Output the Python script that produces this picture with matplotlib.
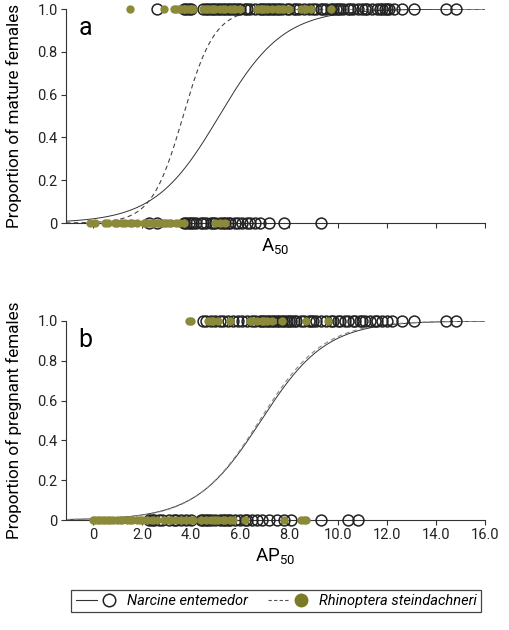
import numpy as np
import matplotlib
matplotlib.use('Agg')
import matplotlib.pyplot as plt
from matplotlib.lines import Line2D
from matplotlib.legend_handler import HandlerTuple

plt.rcParams['font.family'] = ['Roboto', 'DejaVu Sans']

green = '#8a8a3a'

# Panel a: maturity (1 = mature, 0 = immature)
narc_mat_1 = [2.6, 3.7, 3.8, 3.9, 4.0, 4.5, 4.6, 4.7, 4.8, 4.9, 5.0, 5.1, 5.2, 5.3, 5.4,
              5.5, 5.6, 5.7, 5.8, 5.9, 6.0, 6.2, 6.3, 6.4, 6.6, 6.8, 6.9, 7.0, 7.1, 7.2,
              7.3, 7.4, 7.5, 7.6, 7.7, 7.9, 8.0, 8.2, 8.3, 8.4, 8.6, 8.8, 9.0, 9.1, 9.3,
              9.4, 9.5, 9.7, 9.8, 9.9, 10.0, 10.1, 10.2, 10.4, 10.5, 10.6, 10.8, 11.0,
              11.1, 11.2, 11.4, 11.6, 11.7, 11.8, 11.9, 12.0, 12.1, 12.3, 12.6, 13.1,
              14.4, 14.8]
rhin_mat_1 = [1.5, 2.9, 3.3, 3.4, 3.5, 3.6, 3.7, 3.8, 3.9, 4.0, 4.1, 4.5, 4.6, 4.7, 4.8,
              4.9, 5.0, 5.2, 5.3, 5.4, 5.6, 5.7, 5.8, 6.0, 6.7, 6.8, 6.9, 7.0, 7.1, 7.3,
              7.5, 7.6, 7.7, 7.8, 8.0, 8.5, 8.6, 8.7, 8.9, 9.7]
narc_mat_0 = [2.3, 2.6, 3.7, 3.8, 3.9, 4.0, 4.1, 4.2, 4.4, 4.5, 4.6, 4.8, 4.9, 5.0, 5.2,
              5.3, 5.4, 5.5, 5.6, 5.8, 5.9, 6.1, 6.3, 6.4, 6.6, 6.8, 7.2, 7.8, 9.3]
rhin_mat_0 = [-0.1, 0.1, 0.5, 0.6, 0.9, 1.0, 1.2, 1.3, 1.5, 1.6, 1.8, 2.1, 2.2, 2.3, 2.4,
              2.5, 2.6, 2.7, 2.8, 2.9, 3.0, 3.1, 3.2, 3.4, 3.5, 3.7, 5.0, 5.2, 5.4]

# Panel b: pregnancy (1 = pregnant, 0 = not pregnant)
narc_preg_1 = [4.5, 4.6, 4.8, 5.0, 5.2, 5.3, 5.5, 5.7, 5.9, 6.1, 6.3, 6.5, 6.6, 6.8, 6.9,
               7.0, 7.1, 7.2, 7.3, 7.4, 7.5, 7.6, 7.7, 7.8, 7.9, 8.0, 8.1, 8.2, 8.3, 8.5,
               8.6, 8.8, 8.9, 9.0, 9.1, 9.3, 9.5, 9.7, 9.8, 10.0, 10.1, 10.3, 10.4, 10.6,
               10.7, 10.9, 11.0, 11.1, 11.3, 11.5, 11.6, 11.8, 12.0, 12.2, 12.6, 13.1,
               14.4, 14.8]
rhin_preg_1 = [3.9, 4.0, 4.7, 4.8, 4.9, 5.1, 5.6, 6.4, 6.5, 6.7, 6.9, 7.0, 7.1, 7.3, 7.7,
               8.7, 9.6]
narc_preg_0 = [2.3, 2.4, 2.5, 2.7, 2.8, 3.1, 3.3, 3.4, 3.6, 3.8, 4.0, 4.4, 4.5, 4.6, 4.7,
               4.8, 5.0, 5.2, 5.3, 5.4, 5.5, 5.6, 5.8, 6.0, 6.2, 6.3, 6.5, 6.7, 6.9, 7.2,
               7.5, 7.8, 8.1, 9.3, 10.4, 10.8]
rhin_preg_0 = [0.0, 0.1, 0.2, 0.3, 0.4, 0.5, 0.6, 0.7, 0.8, 1.0, 1.1, 1.2, 1.4, 1.5, 1.6,
               1.8, 1.9, 2.0, 2.2, 2.4, 2.6, 2.9, 3.1, 3.2, 3.4, 3.6, 3.8, 4.0, 4.1, 4.4,
               4.6, 4.8, 5.0, 5.1, 5.3, 5.4, 5.6, 5.7, 6.2, 7.8, 8.5, 8.6, 8.7]

# logistic fits (x50, slope)
fit_a_narc = (5.15, 0.76)
fit_a_rhin = (3.68, 1.55)
fit_b_narc = (6.86, 0.75)
fit_b_rhin = (6.80, 0.77)

xticks = [0, 2, 4, 6, 8, 10, 12, 14, 16]
xticklabels = ['0', '2.0', '4.0', '6.0', '8.0', '10.0', '12.0', '14.0', '16.0']
yticks = [0, 0.2, 0.4, 0.6, 0.8, 1.0]
yticklabels = ['0', '0.2', '0.4', '0.6', '0.8', '1.0']


def logistic(x, p):
    return 1.0 / (1.0 + np.exp(-p[1] * (x - p[0])))


def panel(ax, fit_n, fit_r, n1, r1, n0, r0, dash_col):
    xs = np.linspace(-1.1, 16, 400)
    ax.plot(xs, logistic(xs, fit_n), color='#333333', lw=0.7, zorder=2)
    ax.plot(xs, logistic(xs, fit_r), color=dash_col, lw=0.8, ls=(0, (4, 3)), zorder=2)
    for vals, yv in ((n1, 1), (n0, 0)):
        ax.plot(vals, [yv] * len(vals), 'o', ms=7.8, mfc='none', mec='#222222',
                mew=1.1, clip_on=False, zorder=3)
    for vals, yv in ((r1, 1), (r0, 0)):
        ax.plot(vals, [yv] * len(vals), 'o', ms=6.0, mfc=green, mec=green,
                mew=0, clip_on=False, zorder=4)
    ax.set_xlim(-1.1, 16)
    ax.set_ylim(0, 1)
    ax.set_yticks(yticks)
    ax.set_yticklabels(yticklabels)
    ax.set_xticks(xticks)
    for s in ('top', 'right'):
        ax.spines[s].set_visible(False)
    for s in ('left', 'bottom'):
        ax.spines[s].set_color('#333333')
        ax.spines[s].set_linewidth(0.8)
    ax.tick_params(direction='out', length=3.5, width=0.8, color='#333333',
                   labelsize=10.5, labelcolor='#222222', pad=2.5)


fig = plt.figure(figsize=(5.1, 6.3), dpi=100)
ax1 = fig.add_axes([0.1294, 0.646, 0.8216, 0.3397])
ax2 = fig.add_axes([0.1294, 0.1746, 0.8216, 0.3159])

panel(ax1, fit_a_narc, fit_a_rhin, narc_mat_1, rhin_mat_1, narc_mat_0, rhin_mat_0, '#444444')
ax1.set_xticklabels([])
ax1.set_ylabel('Proportion of mature females', fontsize=12.3)
ax1.set_xlabel(r'A$_\mathregular{50}$', fontsize=13.5, labelpad=4)
ax1.text(0.03, 0.965, 'a', transform=ax1.transAxes, fontsize=18, va='top')

panel(ax2, fit_b_narc, fit_b_rhin, narc_preg_1, rhin_preg_1, narc_preg_0, rhin_preg_0, '#888888')
ax2.set_xticklabels(xticklabels)
ax2.set_ylabel('Proportion of pregnant females', fontsize=12.3)
ax2.set_xlabel(r'AP$_\mathregular{50}$', fontsize=13.5, labelpad=3)
ax2.text(0.03, 0.965, 'b', transform=ax2.transAxes, fontsize=18, va='top')

for ax in (ax1, ax2):
    ax.yaxis.set_label_coords(-0.105, 0.5)

h_n = (Line2D([], [], color='#333333', lw=0.8),
       Line2D([], [], ls='none', marker='o', ms=9, mfc='white', mec='#222222', mew=1.1))
h_r = (Line2D([], [], color='#555555', lw=0.8, ls=(0, (3, 2))),
       Line2D([], [], ls='none', marker='o', ms=9, mfc='#7a7a28', mec='#7a7a28'))
leg = fig.legend([h_n, h_r], ['Narcine entemedor', 'Rhinoptera steindachneri'],
                 handler_map={tuple: HandlerTuple(ndivide=None, pad=0.1)},
                 loc='center', bbox_to_anchor=(0.542, 0.046), ncol=2, fancybox=False,
                 edgecolor='#444444', framealpha=1, prop={'style': 'italic', 'size': 10.5},
                 handlelength=3.0, columnspacing=1.4, borderpad=0.3, handletextpad=0.5)
leg.get_frame().set_linewidth(0.9)

fig.savefig('out.png', dpi=100)
